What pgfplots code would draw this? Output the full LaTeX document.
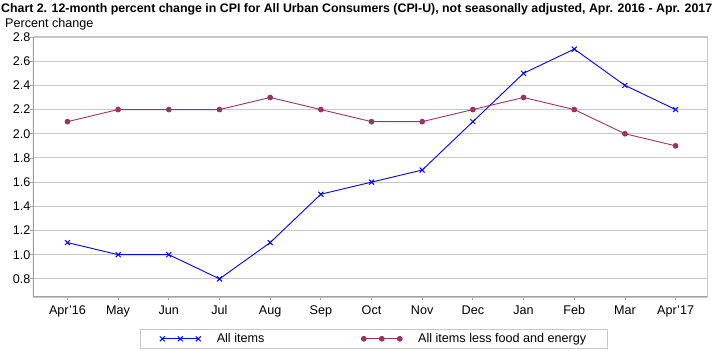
\documentclass[border=0pt]{standalone}
\usepackage{pgfplots}
\pgfplotsset{compat=1.18}
\usepackage{fontspec}
\setmainfont{Liberation Sans}
\definecolor{allitems}{RGB}{0,0,255}
\definecolor{core}{RGB}{153,51,102}
\definecolor{gridc}{RGB}{200,200,200}
\definecolor{framec}{RGB}{160,160,160}
\begin{document}
\begin{tikzpicture}
\useasboundingbox (0,0) rectangle (714bp,351bp);
\node[anchor=west,inner sep=0pt,font=\fontsize{12.35bp}{14bp}\selectfont\bfseries] at (1bp,342bp) {Chart 2. 12-month percent change in CPI for All Urban Consumers (CPI-U), not seasonally adjusted, Apr. 2016 - Apr. 2017};
\node[anchor=west,inner sep=0pt,font=\fontsize{12.6bp}{14bp}\selectfont] at (5bp,327bp) {Percent change};
\begin{axis}[
  at={(33bp,54bp)}, anchor=south west,
  scale only axis, width=674bp, height=260bp,
  xmin=-0.68, xmax=12.62, ymin=0.65, ymax=2.8,
  xtick={0,...,12},
  xticklabels={Apr'16,May,Jun,Jul,Aug,Sep,Oct,Nov,Dec,Jan,Feb,Mar,Apr'17},
  ytick={0.8,1.0,...,2.8},
  yticklabel style={/pgf/number format/fixed,/pgf/number format/fixed zerofill,/pgf/number format/precision=1, xshift=4bp},
  /pgf/number format/assume math mode=true,
  ticklabel style={font=\fontsize{12.6bp}{14bp}\selectfont},
  xticklabel style={yshift=-2bp},
  tick align=outside, major tick length=3bp,
  tick style={draw=framec, line width=0.8pt},
  xtick pos=bottom, ytick pos=left,
  ymajorgrids, grid style={draw=gridc, line width=0.9pt},
  axis line style={draw=gridc, line width=1pt},
  legend style={at={(0.506,-0.123)}, anchor=north, legend columns=2,
    draw=gridc, line width=1pt, font=\fontsize{12.6bp}{14bp}\selectfont,
    inner xsep=19bp, inner ysep=2bp,
    /tikz/every odd column/.append style={column sep=14bp},
    /tikz/every even column/.append style={column sep=95bp}},
  legend image code/.code={\draw[#1] plot coordinates {(0bp,0bp) (18bp,0bp) (36bp,0bp)};},
]
\draw[framec, line width=2pt] (rel axis cs:0,1) -- (rel axis cs:0,0) -- (rel axis cs:1,0);
\addplot[allitems, line width=0.9pt, mark=x, mark size=3.5bp, mark options={line width=1pt}]
  coordinates {(0,1.1) (1,1.0) (2,1.0) (3,0.8) (4,1.1) (5,1.5) (6,1.6) (7,1.7) (8,2.1) (9,2.5) (10,2.7) (11,2.4) (12,2.2)};
\addlegendentry{All items}
\addplot[core, line width=0.9pt, mark=*, mark size=2.4bp]
  coordinates {(0,2.1) (1,2.2) (2,2.2) (3,2.2) (4,2.3) (5,2.2) (6,2.1) (7,2.1) (8,2.2) (9,2.3) (10,2.2) (11,2.0) (12,1.9)};
\addlegendentry{All items less food and energy}
\end{axis}
\end{tikzpicture}
\end{document}
